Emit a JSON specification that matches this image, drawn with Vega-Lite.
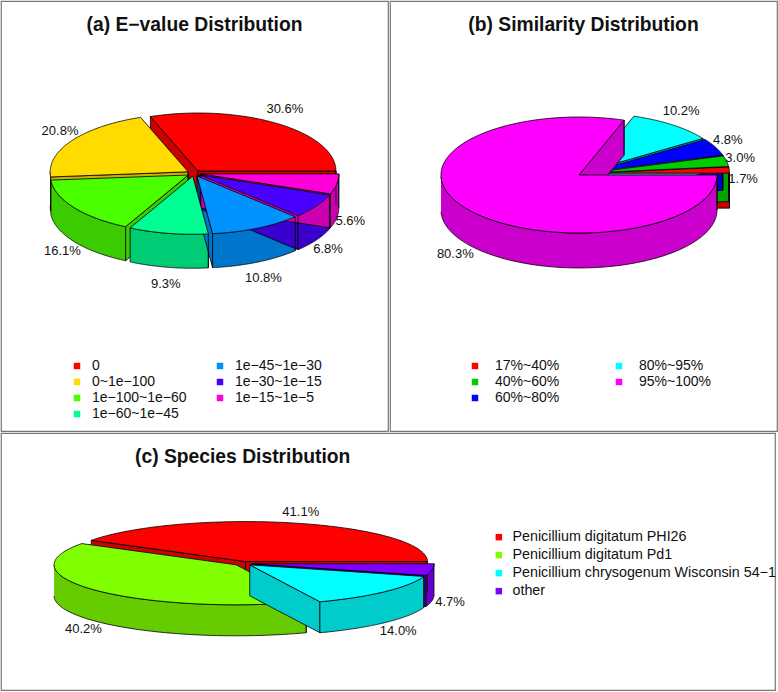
{"$schema":"https://vega.github.io/schema/vega-lite/v6.json","padding":0,"background":"white","spacing":0,"config":{"view":{"stroke":"#777777","strokeWidth":1.2},"concat":{"spacing":0},"font":"Liberation Sans"},"resolve":{"scale":{"color":"independent","fill":"independent"},"legend":{"color":"independent"}},"vconcat":[{"spacing":0,"resolve":{"scale":{"color":"independent","fill":"independent"},"legend":{"color":"independent"}},"hconcat":[
{"width":387,"height":430,"title":{"text":"(a) E−value Distribution","font":"Liberation Sans","fontSize":19.3,"fontWeight":"bold","color":"#111111","anchor":"middle","offset":-34},
"data":{"values":[{"ord":1,"label":"0","pct":30.6},{"ord":2,"label":"0~1e−100","pct":20.8},{"ord":3,"label":"1e−100~1e−60","pct":16.1},{"ord":4,"label":"1e−60~1e−45","pct":9.3},{"ord":5,"label":"1e−45~1e−30","pct":10.8},{"ord":6,"label":"1e−30~1e−15","pct":6.8},{"ord":7,"label":"1e−15~1e−5","pct":5.6}]},
"transform":[{"window":[{"op":"sum","field":"pct","as":"s1"}],"sort":[{"field":"ord"}]},{"joinaggregate":[{"op":"sum","field":"pct","as":"tot"}]},{"calculate":"2*PI*(datum.s1-datum.pct)/datum.tot","as":"a0"},{"calculate":"2*PI*datum.s1/datum.tot","as":"a1"},{"calculate":"(datum.a0+datum.a1)/2","as":"mid"},{"calculate":"sequence(-1,122)","as":"k"},{"flatten":["k"]},{"calculate":"datum.k<0||datum.k>120?0:1","as":"r"},{"calculate":"datum.a0+(datum.a1-datum.a0)*clamp(datum.k,0,120)/120","as":"t"},{"calculate":"0.05*cos(datum.mid)+datum.r*cos(datum.t)","as":"px"},{"calculate":"0.05*sin(datum.mid)+datum.r*sin(datum.t)","as":"py"},{"calculate":"datum.py-0.586","as":"py0"},{"calculate":"1.15*cos(datum.mid)","as":"lx"},{"calculate":"1.35*sin(datum.mid)-(sin(datum.mid)<0?0.586:0)","as":"ly"},{"calculate":"format(datum.pct,'.1f')+'%'","as":"pctLabel"}],
"encoding":{"x":{"field":"px","type":"quantitative","title":null,"axis":null,"scale":{"domain":[-1.3986,1.4058],"nice":false,"zero":false}},"y":{"field":"py","type":"quantitative","title":null,"axis":null,"scale":{"domain":[-4.441,2.972],"nice":false,"zero":false}}},
"layer":[
{"transform":[{"calculate":"sequence(0,3)","as":"part"},{"flatten":["part"]},{"filter":"(datum.part==0&&datum.k>=0&&datum.k<=120&&sin(datum.t)<=0.01)||(datum.part==1&&datum.k<=0&&cos(datum.a0)>0)||(datum.part==2&&datum.k>=120&&cos(datum.a1)<0)"},{"calculate":"sequence(0,2)","as":"pass"},{"flatten":["pass"]},{"calculate":"datum.pass==0?datum.k:1000-datum.k","as":"o"},{"calculate":"datum.pass==0?datum.py:datum.py0","as":"wy"}],"mark":{"type":"line","filled":true,"stroke":"black","strokeWidth":0.8},"encoding":{"y":{"field":"wy","type":"quantitative"},"order":{"field":"o","type":"quantitative"},"detail":{"field":"part","type":"nominal"},"fill":{"field":"label","type":"nominal","legend":null,"scale":{"domain":["1e−15~1e−5","1e−30~1e−15","1e−45~1e−30","1e−60~1e−45","1e−100~1e−60","0~1e−100","0"],"range":["#CC00AF","#3A00CC","#0075CC","#00CC75","#3ACC00","#CCAF00","#CC0000"]}}}},
{"transform":[{"filter":"(datum.k==-1&&(cos(datum.a0)>0||cos(datum.a1)<0))||(datum.k==0&&(cos(datum.a0)>0||sin(datum.a0)<0))||(datum.k==120&&(cos(datum.a1)<0||sin(datum.a1)<0))"}],"mark":{"type":"rule","stroke":"black","strokeWidth":0.8},"encoding":{"y":{"field":"py0","type":"quantitative"},"y2":{"field":"py"}}},
{"mark":{"type":"line","filled":true,"stroke":"black","strokeWidth":0.8},"encoding":{"order":{"field":"k","type":"quantitative"},"color":{"field":"label","type":"nominal","scale":{"domain":["0","0~1e−100","1e−100~1e−60","1e−60~1e−45","1e−45~1e−30","1e−30~1e−15","1e−15~1e−5"],"range":["#FF0000","#FFDB00","#49FF00","#00FF92","#0092FF","#4900FF","#FF00DB"]},"legend":{"title":null,"orient":"none","legendX":69,"legendY":358,"direction":"vertical","columns":2,"columnPadding":26,"symbolType":"square","symbolSize":42,"symbolStrokeWidth":0,"labelFont":"Liberation Sans","labelFontSize":14,"labelColor":"#111111","labelOffset":8,"rowPadding":2,"labelLimit":200}}}},
{"transform":[{"filter":"datum.k==0"}],"mark":{"type":"text","font":"Liberation Sans","fontSize":13,"color":"#111111","align":"center","baseline":"middle"},"encoding":{"x":{"field":"lx","type":"quantitative"},"y":{"field":"ly","type":"quantitative"},"text":{"field":"pctLabel"}}}
]},
{"width":387,"height":430,"title":{"text":"(b) Similarity Distribution","font":"Liberation Sans","fontSize":19.3,"fontWeight":"bold","color":"#111111","anchor":"middle","offset":-34},
"data":{"values":[{"ord":1,"label":"17%~40%","pct":1.7},{"ord":2,"label":"40%~60%","pct":3.0},{"ord":3,"label":"60%~80%","pct":4.8},{"ord":4,"label":"80%~95%","pct":10.2},{"ord":5,"label":"95%~100%","pct":80.3}]},
"transform":[{"window":[{"op":"sum","field":"pct","as":"s1"}],"sort":[{"field":"ord"}]},{"joinaggregate":[{"op":"sum","field":"pct","as":"tot"}]},{"calculate":"2*PI*(datum.s1-datum.pct)/datum.tot","as":"a0"},{"calculate":"2*PI*datum.s1/datum.tot","as":"a1"},{"calculate":"(datum.a0+datum.a1)/2","as":"mid"},{"calculate":"sequence(-1,122)","as":"k"},{"flatten":["k"]},{"calculate":"datum.k<0||datum.k>120?0:1","as":"r"},{"calculate":"datum.a0+(datum.a1-datum.a0)*clamp(datum.k,0,120)/120","as":"t"},{"calculate":"0.05*cos(datum.mid)+datum.r*cos(datum.t)","as":"px"},{"calculate":"0.05*sin(datum.mid)+datum.r*sin(datum.t)","as":"py"},{"calculate":"datum.py-0.603","as":"py0"},{"calculate":"1.15*cos(datum.mid)","as":"lx"},{"calculate":"1.35*sin(datum.mid)-(sin(datum.mid)<0?0.603:0)-(sin(datum.mid)<0.06&&sin(datum.mid)>0?0.17:0)","as":"ly"},{"calculate":"format(datum.pct,'.1f')+'%'","as":"pctLabel"}],
"encoding":{"x":{"field":"px","type":"quantitative","title":null,"axis":null,"scale":{"domain":[-1.41,1.394],"nice":false,"zero":false}},"y":{"field":"py","type":"quantitative","title":null,"axis":null,"scale":{"domain":[-4.443,2.971],"nice":false,"zero":false}}},
"layer":[
{"transform":[{"filter":"datum.ord<5"},{"calculate":"sequence(0,3)","as":"part"},{"flatten":["part"]},{"filter":"(datum.part==0&&datum.k>=0&&datum.k<=120&&sin(datum.t)<=0.01)||(datum.part==1&&datum.k<=0&&cos(datum.a0)>0)||(datum.part==2&&datum.k>=120&&cos(datum.a1)<0)"},{"calculate":"sequence(0,2)","as":"pass"},{"flatten":["pass"]},{"calculate":"datum.pass==0?datum.k:1000-datum.k","as":"o"},{"calculate":"datum.pass==0?datum.py:datum.py0","as":"wy"}],"mark":{"type":"line","filled":true,"stroke":"black","strokeWidth":0.8},"encoding":{"y":{"field":"wy","type":"quantitative"},"order":{"field":"o","type":"quantitative"},"detail":{"field":"part","type":"nominal"},"fill":{"field":"label","type":"nominal","legend":null,"scale":{"domain":["95%~100%","80%~95%","60%~80%","40%~60%","17%~40%"],"range":["#CC00CC","#00CCCC","#0000CC","#00A300","#CC0000"]}}}},
{"transform":[{"filter":"datum.ord<5&&((datum.k==-1&&(cos(datum.a0)>0||cos(datum.a1)<0))||(datum.k==0&&(cos(datum.a0)>0||sin(datum.a0)<0))||(datum.k==120&&(cos(datum.a1)<0||sin(datum.a1)<0)))"}],"mark":{"type":"rule","stroke":"black","strokeWidth":0.8},"encoding":{"y":{"field":"py0","type":"quantitative"},"y2":{"field":"py"}}},
{"transform":[{"filter":"datum.ord<5"}],"mark":{"type":"line","filled":true,"stroke":"black","strokeWidth":0.8},"encoding":{"order":{"field":"k","type":"quantitative"},"color":{"field":"label","type":"nominal","scale":{"domain":["17%~40%","40%~60%","60%~80%","80%~95%","95%~100%"],"range":["#FF0000","#00CC00","#0000FF","#00FFFF","#FF00FF"]},"legend":{"title":null,"orient":"none","legendX":78,"legendY":358,"direction":"vertical","columns":2,"columnPadding":52,"symbolType":"square","symbolSize":42,"symbolStrokeWidth":0,"labelFont":"Liberation Sans","labelFontSize":14,"labelColor":"#111111","labelOffset":13,"rowPadding":2,"labelLimit":200}}}},
{"transform":[{"filter":"datum.ord==5"},{"calculate":"sequence(0,3)","as":"part"},{"flatten":["part"]},{"filter":"(datum.part==0&&datum.k>=0&&datum.k<=120&&sin(datum.t)<=0.01)||(datum.part==1&&datum.k<=0&&cos(datum.a0)>0)||(datum.part==2&&datum.k>=120&&cos(datum.a1)<0)"},{"calculate":"sequence(0,2)","as":"pass"},{"flatten":["pass"]},{"calculate":"datum.pass==0?datum.k:1000-datum.k","as":"o"},{"calculate":"datum.pass==0?datum.py:datum.py0","as":"wy"}],"mark":{"type":"line","filled":true,"stroke":"black","strokeWidth":0.8},"encoding":{"y":{"field":"wy","type":"quantitative"},"order":{"field":"o","type":"quantitative"},"detail":{"field":"part","type":"nominal"},"fill":{"field":"label","type":"nominal","legend":null,"scale":{"domain":["95%~100%","80%~95%","60%~80%","40%~60%","17%~40%"],"range":["#CC00CC","#00CCCC","#0000CC","#00A300","#CC0000"]}}}},
{"transform":[{"filter":"datum.ord==5&&((datum.k==-1&&(cos(datum.a0)>0||cos(datum.a1)<0))||(datum.k==0&&(cos(datum.a0)>0||sin(datum.a0)<0))||(datum.k==120&&(cos(datum.a1)<0||sin(datum.a1)<0)))"}],"mark":{"type":"rule","stroke":"black","strokeWidth":0.8},"encoding":{"y":{"field":"py0","type":"quantitative"},"y2":{"field":"py"}}},
{"transform":[{"filter":"datum.ord==5"}],"mark":{"type":"line","filled":true,"stroke":"black","strokeWidth":0.8},"encoding":{"order":{"field":"k","type":"quantitative"},"color":{"field":"label","type":"nominal","scale":{"domain":["17%~40%","40%~60%","60%~80%","80%~95%","95%~100%"],"range":["#FF0000","#00CC00","#0000FF","#00FFFF","#FF00FF"]},"legend":{"title":null,"orient":"none","legendX":78,"legendY":358,"direction":"vertical","columns":2,"columnPadding":52,"symbolType":"square","symbolSize":42,"symbolStrokeWidth":0,"labelFont":"Liberation Sans","labelFontSize":14,"labelColor":"#111111","labelOffset":13,"rowPadding":2,"labelLimit":200}}}},
{"transform":[{"filter":"datum.k==0"}],"mark":{"type":"text","font":"Liberation Sans","fontSize":13,"color":"#111111","align":"center","baseline":"middle"},"encoding":{"x":{"field":"lx","type":"quantitative"},"y":{"field":"ly","type":"quantitative"},"text":{"field":"pctLabel"}}}
]}
]},
{"width":774,"height":257,"title":{"text":"(c) Species Distribution","font":"Liberation Sans","fontSize":19.3,"fontWeight":"bold","color":"#111111","anchor":"start","dx":134,"offset":-34.5},
"data":{"values":[{"ord":1,"label":"Penicillium digitatum PHI26","pct":41.1},{"ord":2,"label":"Penicillium digitatum Pd1","pct":40.2},{"ord":3,"label":"Penicillium chrysogenum Wisconsin 54−1","pct":14.0},{"ord":4,"label":"other","pct":4.7}]},
"transform":[{"window":[{"op":"sum","field":"pct","as":"s1"}],"sort":[{"field":"ord"}]},{"joinaggregate":[{"op":"sum","field":"pct","as":"tot"}]},{"calculate":"2*PI*(datum.s1-datum.pct)/datum.tot","as":"a0"},{"calculate":"2*PI*datum.s1/datum.tot","as":"a1"},{"calculate":"(datum.a0+datum.a1)/2","as":"mid"},{"calculate":"sequence(-1,122)","as":"k"},{"flatten":["k"]},{"calculate":"datum.k<0||datum.k>120?0:1","as":"r"},{"calculate":"datum.a0+(datum.a1-datum.a0)*clamp(datum.k,0,120)/120","as":"t"},{"calculate":"0.05*cos(datum.mid)+datum.r*cos(datum.t)","as":"px"},{"calculate":"0.05*sin(datum.mid)+datum.r*sin(datum.t)","as":"py"},{"calculate":"datum.py-0.775","as":"py0"},{"calculate":"1.15*cos(datum.mid)","as":"lx"},{"calculate":"1.35*sin(datum.mid)-(sin(datum.mid)<0?0.775:0)","as":"ly"},{"calculate":"format(datum.pct,'.1f')+'%'","as":"pctLabel"}],
"encoding":{"x":{"field":"px","type":"quantitative","title":null,"axis":null,"scale":{"domain":[-1.3297,2.9231],"nice":false,"zero":false}},"y":{"field":"py","type":"quantitative","title":null,"axis":null,"scale":{"domain":[-3.1625,3.2625],"nice":false,"zero":false}}},
"layer":[
{"transform":[{"filter":"datum.ord!=3"},{"calculate":"sequence(0,3)","as":"part"},{"flatten":["part"]},{"filter":"(datum.part==0&&datum.k>=0&&datum.k<=120&&sin(datum.t)<=0.01)||(datum.part==1&&datum.k<=0&&cos(datum.a0)>0)||(datum.part==2&&datum.k>=120&&cos(datum.a1)<0)"},{"calculate":"sequence(0,2)","as":"pass"},{"flatten":["pass"]},{"calculate":"datum.pass==0?datum.k:1000-datum.k","as":"o"},{"calculate":"datum.pass==0?datum.py:datum.py0","as":"wy"}],"mark":{"type":"line","filled":true,"stroke":"black","strokeWidth":0.8},"encoding":{"y":{"field":"wy","type":"quantitative"},"order":{"field":"o","type":"quantitative"},"detail":{"field":"part","type":"nominal"},"fill":{"field":"label","type":"nominal","legend":null,"scale":{"domain":["other","Penicillium chrysogenum Wisconsin 54−1","Penicillium digitatum Pd1","Penicillium digitatum PHI26"],"range":["#6600CC","#00CCCC","#66CC00","#CC0000"]}}}},
{"transform":[{"filter":"datum.ord!=3&&((datum.k==-1&&(cos(datum.a0)>0||cos(datum.a1)<0))||(datum.k==0&&(cos(datum.a0)>0||sin(datum.a0)<0))||(datum.k==120&&(cos(datum.a1)<0||sin(datum.a1)<0)))"}],"mark":{"type":"rule","stroke":"black","strokeWidth":0.8},"encoding":{"y":{"field":"py0","type":"quantitative"},"y2":{"field":"py"}}},
{"transform":[{"filter":"datum.ord!=3"}],"mark":{"type":"line","filled":true,"stroke":"black","strokeWidth":0.8},"encoding":{"order":{"field":"k","type":"quantitative"},"color":{"field":"label","type":"nominal","scale":{"domain":["Penicillium digitatum PHI26","Penicillium digitatum Pd1","Penicillium chrysogenum Wisconsin 54−1","other"],"range":["#FF0000","#80FF00","#00FFFF","#8000FF"]},"legend":{"title":null,"orient":"none","legendX":490.7,"legendY":97,"direction":"vertical","symbolType":"square","symbolSize":42,"symbolStrokeWidth":0,"labelFont":"Liberation Sans","labelFontSize":14.3,"labelColor":"#111111","labelOffset":6.5,"rowPadding":3,"labelLimit":300}}}},
{"transform":[{"filter":"datum.ord==3"},{"calculate":"sequence(0,3)","as":"part"},{"flatten":["part"]},{"filter":"(datum.part==0&&datum.k>=0&&datum.k<=120&&sin(datum.t)<=0.01)||(datum.part==1&&datum.k<=0&&cos(datum.a0)>0)||(datum.part==2&&datum.k>=120&&cos(datum.a1)<0)"},{"calculate":"sequence(0,2)","as":"pass"},{"flatten":["pass"]},{"calculate":"datum.pass==0?datum.k:1000-datum.k","as":"o"},{"calculate":"datum.pass==0?datum.py:datum.py0","as":"wy"}],"mark":{"type":"line","filled":true,"stroke":"black","strokeWidth":0.8},"encoding":{"y":{"field":"wy","type":"quantitative"},"order":{"field":"o","type":"quantitative"},"detail":{"field":"part","type":"nominal"},"fill":{"field":"label","type":"nominal","legend":null,"scale":{"domain":["other","Penicillium chrysogenum Wisconsin 54−1","Penicillium digitatum Pd1","Penicillium digitatum PHI26"],"range":["#6600CC","#00CCCC","#66CC00","#CC0000"]}}}},
{"transform":[{"filter":"datum.ord==3&&((datum.k==-1&&(cos(datum.a0)>0||cos(datum.a1)<0))||(datum.k==0&&(cos(datum.a0)>0||sin(datum.a0)<0))||(datum.k==120&&(cos(datum.a1)<0||sin(datum.a1)<0)))"}],"mark":{"type":"rule","stroke":"black","strokeWidth":0.8},"encoding":{"y":{"field":"py0","type":"quantitative"},"y2":{"field":"py"}}},
{"transform":[{"filter":"datum.ord==3"}],"mark":{"type":"line","filled":true,"stroke":"black","strokeWidth":0.8},"encoding":{"order":{"field":"k","type":"quantitative"},"color":{"field":"label","type":"nominal","scale":{"domain":["Penicillium digitatum PHI26","Penicillium digitatum Pd1","Penicillium chrysogenum Wisconsin 54−1","other"],"range":["#FF0000","#80FF00","#00FFFF","#8000FF"]},"legend":{"title":null,"orient":"none","legendX":490.7,"legendY":97,"direction":"vertical","symbolType":"square","symbolSize":42,"symbolStrokeWidth":0,"labelFont":"Liberation Sans","labelFontSize":14.3,"labelColor":"#111111","labelOffset":6.5,"rowPadding":3,"labelLimit":300}}}},
{"transform":[{"filter":"datum.k==0"}],"mark":{"type":"text","font":"Liberation Sans","fontSize":13,"color":"#111111","align":"center","baseline":"middle"},"encoding":{"x":{"field":"lx","type":"quantitative"},"y":{"field":"ly","type":"quantitative"},"text":{"field":"pctLabel"}}}
]}
]}
